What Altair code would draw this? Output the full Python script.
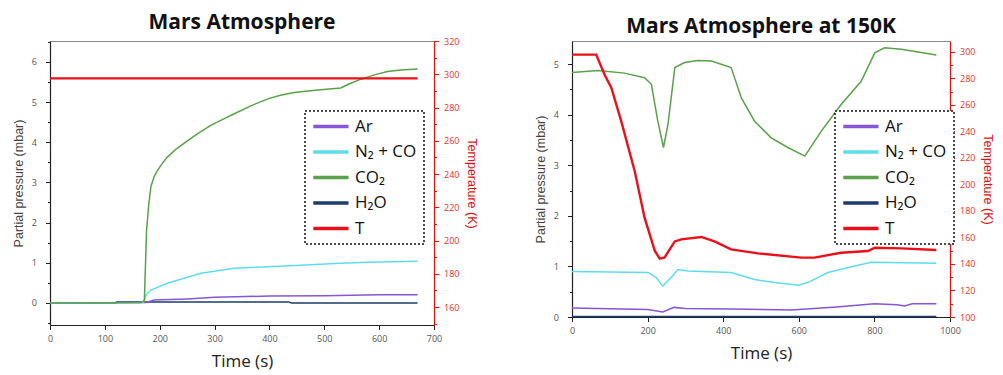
import altair as alt
import pandas as pd

SERIES = ["Ar", "N₂ + CO", "CO₂", "H₂O", "T"]
COLORS = ["#8655d8", "#5fdcec", "#5ba04a", "#1c3d6e", "#e8101a"]

# ---------------- Left panel: Mars Atmosphere ----------------
L_ar_t = [0, 175, 190, 250, 300, 400, 500, 600, 670]
L_ar_v = [0, 0.01, 0.07, 0.10, 0.14, 0.17, 0.18, 0.20, 0.20]
L_n2_t = [0, 170, 176, 184, 214, 275, 336, 397, 458, 518, 579, 670]
L_n2_v = [0, 0.01, 0.22, 0.32, 0.49, 0.74, 0.86, 0.90, 0.94, 0.98, 1.01, 1.04]
L_co2_t = [0, 165, 172, 176, 180, 184, 190, 196, 205, 214, 230, 251, 270, 293, 315, 336, 365,
           397, 420, 445, 488, 530, 545, 567, 590, 615, 640, 670]
L_co2_v = [0, 0.01, 0.05, 1.8, 2.45, 2.9, 3.15, 3.3, 3.48, 3.63, 3.83, 4.04, 4.22, 4.42, 4.57,
           4.71, 4.90, 5.08, 5.17, 5.24, 5.30, 5.35, 5.45, 5.57, 5.67, 5.76, 5.80, 5.82]
L_h2o_t = [0, 120, 121, 170, 185, 435, 440, 670]
L_h2o_v = [0, 0, 0.02, 0.02, 0.025, 0.025, 0.0, 0.0]
L_T_t = [0, 670]
L_T_v = [297.5, 297.5]

# ---------------- Right panel: Mars Atmosphere at 150K ----------------
R_ar_t = [0, 200, 240, 270, 300, 420, 580, 620, 700, 800, 860, 880, 900, 964]
R_ar_v = [0.18, 0.15, 0.10, 0.19, 0.17, 0.16, 0.14, 0.16, 0.20, 0.26, 0.24, 0.22, 0.26, 0.26]
R_n2_t = [0, 201, 223, 240, 262, 280, 307, 421, 483, 536, 598, 624, 677, 748, 792, 964]
R_n2_v = [0.90, 0.88, 0.78, 0.61, 0.78, 0.94, 0.91, 0.88, 0.74, 0.68, 0.63, 0.68, 0.88, 1.01, 1.08, 1.06]
R_co2_t = [0, 69, 139, 192, 210, 227, 242, 254, 272, 298, 333, 369, 421, 448, 483, 527, 571,
           616, 660, 712, 765, 801, 827, 871, 964]
R_co2_v = [4.83, 4.87, 4.82, 4.73, 4.60, 3.87, 3.35, 3.81, 4.93, 5.03, 5.07, 5.06, 4.93, 4.33,
           3.87, 3.54, 3.35, 3.18, 3.68, 4.20, 4.66, 5.22, 5.32, 5.29, 5.18]
R_h2o_t = [0, 964]
R_h2o_v = [0.01, 0.01]
R_T_t = [0, 64, 86, 104, 130, 166, 192, 219, 232, 245, 272, 289, 342, 377, 421, 492, 607, 642,
         712, 783, 801, 871, 964]
R_T_v = [298, 298, 283, 273, 248, 210, 175, 150, 144, 145, 157, 158.6, 160.4, 157, 151, 148,
         144.8, 144.8, 148.5, 149.8, 152.3, 151.8, 150.6]


def frame(pairs):
    rows = []
    for name, ts, vs in pairs:
        for t, v in zip(ts, vs):
            rows.append({"t": t, "v": v, "s": name})
    return pd.DataFrame(rows)


L_gas = frame([("H₂O", L_h2o_t, L_h2o_v), ("Ar", L_ar_t, L_ar_v),
               ("N₂ + CO", L_n2_t, L_n2_v), ("CO₂", L_co2_t, L_co2_v)])
L_temp = frame([("T", L_T_t, L_T_v)])
R_gas = frame([("H₂O", R_h2o_t, R_h2o_v), ("Ar", R_ar_t, R_ar_v),
               ("N₂ + CO", R_n2_t, R_n2_v), ("CO₂", R_co2_t, R_co2_v)])
R_temp = frame([("T", R_T_t, R_T_v)])


def frange(a, b, step):
    out = []
    x = a
    while x <= b + 1e-9:
        out.append(round(x, 4))
        x += step
    return out


def lbl(major):
    return f"abs(datum.value % {major}) < 1e-6 ? format(datum.value, 'd') : ''"


def tsize(major):
    return {"condition": {"test": f"abs(datum.value % {major}) > 1e-6", "value": 2.5},
            "value": 4.5}


def panel(gas, temp, title, title_offset, w, h,
          xdom, xvals, xmajor,
          ydom, yvals, ymajor,
          tdom, tvals, tmajor, legend_xy):
    color = alt.Color(
        "s:N",
        scale=alt.Scale(domain=SERIES, range=COLORS),
        legend=alt.Legend(orient="none", legendX=legend_xy[0], legendY=legend_xy[1],
                          title=None),
    )
    x = alt.X(
        "t:Q",
        scale=alt.Scale(domain=xdom, nice=False, zero=False),
        axis=alt.Axis(
            values=xvals, title="Time (s)", titleFont="Open Sans", titleFontSize=17,
            titleFontWeight="normal", titleColor="#222", titlePadding=10,
            labelExpr=lbl(xmajor), tickSize=tsize(xmajor),
            labelOverlap=False, labelFlush=False, labelPadding=5,
        ),
    )
    gases = alt.Chart(gas).mark_line(strokeWidth=1.5).encode(
        x=x,
        y=alt.Y(
            "v:Q",
            scale=alt.Scale(domain=ydom, nice=False, zero=False),
            axis=alt.Axis(
                values=yvals, title="Partial pressure (mbar)",
                titleFont="Liberation Sans", titleFontSize=12.5, titleFontWeight="normal",
                titleColor="#444", titlePadding=6,
                labelExpr=lbl(ymajor), tickSize=tsize(ymajor),
                labelOverlap=False, labelFlush=False, labelPadding=9,
            ),
        ),
        color=color,
    )
    tline = alt.Chart(temp).mark_line(strokeWidth=2.4).encode(
        x=alt.X("t:Q"),
        y=alt.Y(
            "v:Q",
            scale=alt.Scale(domain=tdom, nice=False, zero=False),
            axis=alt.Axis(
                orient="right", values=tvals, title="Temperature (K)",
                titleFont="Liberation Sans", titleFontSize=12.5, titleFontWeight="normal",
                titleColor="#e01010", titlePadding=6,
                labelColor="#e53030", domainColor="#e01010", tickColor="#e01010",
                labelExpr=lbl(tmajor), tickSize=tsize(tmajor),
                labelOverlap=False, labelFlush=False, labelPadding=5,
            ),
        ),
        color=color,
    )
    return alt.layer(gases, tline).resolve_scale(y="independent").properties(
        width=w, height=h,
        title=alt.TitleParams(title, offset=title_offset),
    )


left = panel(L_gas, L_temp, "Mars Atmosphere", 4, 384, 284,
             [0, 700], frange(0, 700, 50), 100,
             [-0.55, 6.52], frange(-0.5, 6.5, 0.5), 1,
             [149.2, 320], frange(150, 320, 10), 20,
             (255, 70))

right = panel(R_gas, R_temp, "Mars Atmosphere at 150K", 4, 378, 276,
              [0, 1000], frange(0, 1000, 100), 200,
              [0, 5.455], frange(0, 5.0, 0.5), 1,
              [100, 308.3], frange(100, 300, 10), 20,
              (263, 70))

chart = alt.hconcat(left, right, spacing=54).resolve_scale(
    color="independent"
).resolve_legend(color="independent").properties(
    padding={"left": 3, "top": 3, "right": 0, "bottom": 4}
).configure_view(
    stroke="#888", strokeWidth=1
).configure_axis(
    grid=False, labelFont="Open Sans", labelFontSize=9, labelColor="#555",
    domainColor="#222", tickColor="#222", domainWidth=1.2, tickWidth=1,
).configure_title(
    font="Open Sans", fontSize=21, fontWeight="bold", color="#111", anchor="middle"
).configure_legend(
    symbolType="M-1.8,0H7", symbolSize=64, symbolStrokeWidth=3.5,
    labelFont="Open Sans", labelFontSize=17, labelColor="#111", labelOffset=26,
    rowPadding=7.5, padding=7, strokeColor="#111", strokeDash=[2, 2], strokeWidth=1.5,
    fillColor="white",
)

chart.save("out.html", embed_options={"renderer": "svg", "actions": False})
